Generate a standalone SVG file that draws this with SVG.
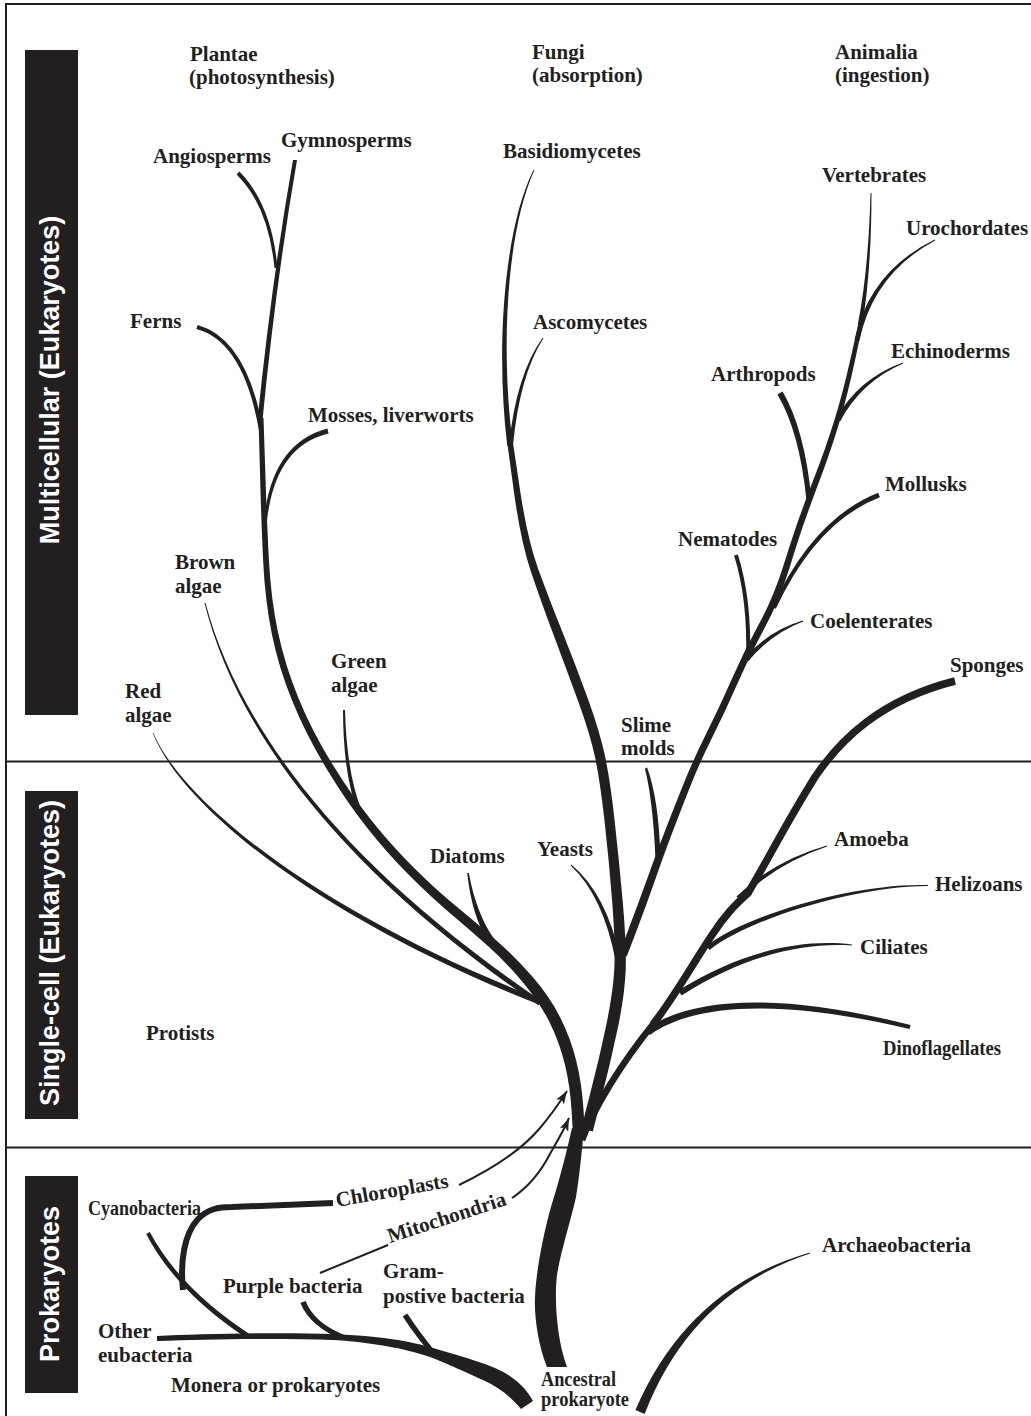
<svg xmlns="http://www.w3.org/2000/svg" width="1031" height="1416" viewBox="0 0 1031 1416">
  <style>
    .br { fill: #231f20; }
    .tk { fill: none; stroke: #231f20; stroke-linecap: round; }
    .tkb { fill: none; stroke: #231f20; stroke-linecap: butt; }
    .arr { fill: none; stroke: #231f20; stroke-width: 2; }
    .frame { fill: none; stroke: #231f20; stroke-width: 2; }
    .bar { fill: #231f20; }
    .bartxt { font-family: "Liberation Sans", Arial, sans-serif; font-weight: bold; font-size: 27px; fill: #ffffff; text-anchor: middle; }
    .lbl { font-family: "Liberation Serif", "Times New Roman", serif; font-weight: bold; font-size: 21px; fill: #231f20; }
    .cond { font-size: 20px; }
  </style>
  <defs>
    <marker id="arrowhead" markerUnits="userSpaceOnUse" viewBox="0 0 16 12" markerWidth="16" markerHeight="12" refX="13" refY="6" orient="auto">
      <path d="M0,1.5 L13,6 L0,10.5 L3,6 Z" fill="#231f20"/>
    </marker>
  </defs>

  <rect x="0" y="0" width="1031" height="1416" fill="#ffffff"/>

  <!-- frame and horizontal dividers -->
  <g id="frame">
    <path class="frame" d="M6,1416 L6,4 L1031,4"/>
    <path class="frame" d="M6,761.5 L1031,761.5"/>
    <path class="frame" d="M6,1147.5 L1031,1147.5"/>
  </g>

  <!-- side bands -->
  <g id="band-multicellular">
    <rect class="bar" x="25" y="50" width="53" height="665"/>
    <text class="bartxt" transform="translate(59,380) rotate(-90)">Multicellular (Eukaryotes)</text>
  </g>
  <g id="band-singlecell">
    <rect class="bar" x="25" y="791" width="53" height="328"/>
    <text class="bartxt" transform="translate(59,953) rotate(-90)">Single-cell (Eukaryotes)</text>
  </g>
  <g id="band-prokaryotes">
    <rect class="bar" x="25" y="1176" width="53" height="217"/>
    <text class="bartxt" transform="translate(59,1284) rotate(-90)">Prokaryotes</text>
  </g>

  <!-- tree branches -->
  <g id="connectors">
    <!-- ancestral trunk -->
    <path class="br" d="M547,1367 C538,1345 534,1315 535,1297 C536,1270 545,1225 554,1197 C560,1178 567,1150 572,1128 L584,1128 C582,1150 579,1180 576,1197 C571,1220 561,1250 557,1275 C554,1300 557,1340 567,1367 Z"/>

    <!-- plant / algae trunk -->
    <path class="br" d="M258.5,418.1 L259.9,469.1 Q261.2,520.1 263.1,560.3 Q265,600.4 271.9,634.2 Q278.8,668 292.4,701.3 Q305.9,734.6 326.4,768.4 Q346.9,802.2 366.9,827.5 Q386.9,852.8 408.5,874.6 Q430,896.3 451,914 Q471.9,931.6 489.6,947.6 Q507.3,963.6 523.8,983.4 Q540.2,1003.2 549.8,1022.7 Q559.4,1042.1 564.8,1064 Q570.1,1085.9 571.6,1110.7 L573,1135.4 L585,1134.6 L583.5,1109.4 Q581.9,1084.1 576.3,1061 Q570.6,1037.9 560.2,1017.4 Q549.8,996.8 532.3,976.6 Q514.7,956.4 496.4,940.4 Q478.1,924.4 457.1,907.1 Q436,889.7 414.6,868.5 Q393.1,847.2 373.1,822.5 Q353.1,797.8 332.6,764.6 Q312.1,731.4 298.7,698.7 Q285.2,666 278.1,632.8 Q271,599.6 268.9,559.8 Q266.8,519.9 265.2,468.9 L263.5,417.9 Z"/>

    <path class="br" d="M293,160 Q271.8,280 257.5,420 L262.5,420 Q276.2,280 297,160 Z"/>
    <path class="br" d="M236.6,174.4 Q268.3,205.7 274.5,268 L277.5,268 Q271.7,204.3 239.4,171.6 Z"/>
    <path class="br" d="M196.4,329.1 Q243.1,341.2 259,430.4 L263,429.6 Q246.9,338.8 197.6,324.9 Z"/>
    <path class="br" d="M327.4,428.6 Q270.2,443.8 263.5,524.9 L266.5,525.1 Q273.8,446.2 328.6,433.4 Z"/>
    <path class="br" d="M343,710 Q343.2,775.3 358,812.8 L362,811.2 Q346.8,774.7 345,710 Z"/>
    <path class="br" d="M204.5,603.1 C233.5,720.7 328.5,861.6 538.5,1005.2 L541.5,1000.9 C331.5,858.4 236.5,719.3 205.5,602.9 Z"/>
    <path class="br" d="M152.7,733.1 C183.8,811.1 328.9,922.1 539,1004.6 L541,999.4 C331.1,917.9 186.2,808.9 153.3,732.9 Z"/>
    <path class="br" d="M467.2,873.1 Q471.6,915.8 489.1,943.9 L494.9,940.1 Q476.4,914.2 468.8,872.9 Z"/>

    <!-- fungi trunk -->
    <path class="br" d="M507.2,442.4 L513.9,491.6 Q520.6,540.8 530.8,571.2 Q541,601.5 553.7,635.2 Q566.3,668.8 578.3,701.6 Q590.2,734.4 595.1,757.6 Q600,780.7 604.5,820.6 Q609,860.5 612.3,902.9 Q615.5,945.2 614.3,968.7 Q613.1,992.2 606.2,1025.4 Q599.2,1058.6 590.2,1093.6 L581.2,1128.5 L592.8,1131.5 L601.8,1096.5 Q610.8,1061.4 617.9,1027.6 Q624.9,993.8 625.7,969.3 Q626.5,944.8 622.8,902.2 Q619,859.5 614.5,819.4 Q610,779.3 604.9,755.5 Q599.8,731.6 587.8,698.4 Q575.7,665.2 562.4,631.9 Q549,598.5 538.2,568.9 Q527.4,539.2 520.1,490.4 L512.8,441.6 Z"/>

    <path class="br" d="M533.6,169.8 C503.5,229.7 495.7,350.1 507.2,445.4 L512.8,444.6 C500.3,349.9 506.5,230.3 534.4,170.2 Z"/>
    <path class="br" d="M542.6,337.7 Q516.3,374.5 509,444.8 L513,445.2 Q519.7,375.5 543.4,338.3 Z"/>
    <path class="br" d="M570.7,865.4 Q603.2,895.9 615.5,960.5 L620.5,959.5 Q606.8,894.1 571.3,864.6 Z"/>
    <path class="br" d="M644.9,768.4 Q653,800.4 655.5,860.1 L660.5,859.9 Q659,799.6 647.1,767.6 Z"/>

    <!-- animal trunk -->
    <path class="br" d="M858.9,321.5 L850.7,358 Q842.5,394.4 833.9,421.8 Q825.3,449.1 816.2,472.5 Q807.1,495.9 800.6,514 Q794,532 783.5,565.4 Q772.9,598.7 758.4,625.1 Q743.9,651.5 731.4,680 Q718.8,708.5 705.8,734.6 Q692.8,760.6 682.2,787.2 Q671.6,813.7 663.5,834.7 Q655.4,855.7 646.8,879.7 Q638.2,903.6 628.8,928.6 L619.3,953.6 L626.7,956.4 L636.3,931.4 Q645.8,906.4 654.2,882.4 Q662.6,858.3 670.5,837.3 Q678.4,816.3 688.8,789.9 Q699.2,763.4 712.2,737.5 Q725.2,711.5 737.7,683 Q750.1,654.5 764.6,627.9 Q779.1,601.3 789.6,567.7 Q800,534 806.5,516.1 Q812.9,498.1 821.8,474.5 Q830.7,450.9 839.1,423.3 Q847.5,395.6 855.3,359.1 L863.1,322.5 Z"/>

    <path class="br" d="M870.5,193 Q868.5,270 857.8,324.6 L862.2,325.4 Q871.5,270 871.5,193 Z"/>
    <path class="br" d="M934.8,239.6 Q870.3,270.6 854.6,339.5 L859.4,340.5 Q873.7,273.4 935.2,240.4 Z"/>
    <path class="br" d="M902.8,362.5 Q858.7,378.5 835.8,418.8 L840.2,421.2 Q861.3,381.5 903.2,363.5 Z"/>
    <path class="br" d="M777.4,394.5 Q799.3,430.7 806.5,500.3 L811.5,499.8 Q804.7,429.3 782.6,391.5 Z"/>
    <path class="br" d="M878.1,492.7 Q813.4,518.5 772.2,607.2 L775.8,608.8 Q816.6,521.5 879.9,497.3 Z"/>
    <path class="br" d="M734.1,555.6 Q748,600.2 746,660 L750,660 Q752,599.8 737.9,554.4 Z"/>
    <path class="br" d="M802.8,620.5 Q768.9,630.4 744.1,658.4 L747.9,661.6 Q771.1,633.6 803.2,621.5 Z"/>

    <!-- protist / sponge trunk -->
    <path class="tkb" stroke-width="6.5" d="M582,1140 C594,1108 620,1065 654,1023"/>
    <path class="tk" stroke-width="7.5" d="M654,1023 C675,996 692,965 712,935 C725,915 735,905 748,893"/>
    <path class="tk" stroke-width="7.5" d="M748,893 C765,865 785,825 815,777"/>
    <path class="tkb" stroke-width="7.5" d="M815,777 C840,740 880,700 955,681"/>

    <path class="br" d="M826.9,845.5 Q774.1,860.4 736.5,896.4 L739.5,899.6 Q775.9,863.6 827.1,846.5 Z"/>
    <path class="br" d="M928,885.1 C859.8,882.5 749.1,912.9 706.4,946 L709.6,950 C750.9,917.1 860.2,885.5 928,885.9 Z"/>
    <path class="br" d="M852,944.5 C799.8,938 739,952.6 678.4,990.5 L681.6,995.5 C741,957.4 800.2,942 852,945.5 Z"/>
    <path class="br" d="M910.5,1025.1 C800.5,997 699.3,991.6 646,1029.1 L650,1034.9 C700.7,998.4 799.5,1003 909.5,1028.9 Z"/>

    <!-- prokaryote branches -->
    <path class="br" d="M809.9,1252.5 Q688,1287.8 635.4,1410.1 L644.6,1413.9 Q692,1292.2 810.1,1253.5 Z"/>
    <path class="br" d="M157,1336 C200,1334 280,1332 333,1334 C380,1336 410,1341 433,1348 C460,1356 490,1364 505,1373 C520,1382 528,1392 533,1401 L521,1409 C512,1398 500,1388 485,1381 C465,1372 450,1365 433,1358 C410,1350 380,1343 333,1340 C280,1338 210,1339 157,1341 Z"/>
    <path class="br" d="M146.2,1233.9 Q176.2,1291.7 246.6,1338.1 L249.4,1333.9 Q179.8,1288.3 149.8,1232.1 Z"/>
    <path class="tkb" stroke-width="6" d="M183,1290 C180,1262 184,1234 198,1219 C208,1209 218,1207 232,1207 L333,1203"/>
    <path class="br" d="M300.4,1303 Q310.2,1327.1 344.1,1340.3 L345.9,1335.7 Q313.8,1322.9 305.6,1301 Z"/>
    <path class="br" d="M402.7,1316.5 Q415.8,1336.7 433.1,1356.6 L436.9,1353.4 Q420.2,1333.3 407.3,1313.5 Z"/>

    <!-- endosymbiosis arrows -->
    <path class="arr" d="M320,1273 L388,1245"/>
    <path class="arr" marker-end="url(#arrowhead)" d="M459,1185 C490,1170 520,1152 540,1128 C552,1114 560,1102 567,1091"/>
    <path class="arr" marker-end="url(#arrowhead)" d="M512,1198 C530,1186 543,1168 551,1152 C558,1140 564,1130 569,1118"/>
  </g>

  <!-- kingdom headings -->
  <g id="kingdom-plantae"><text class="lbl" x="190" y="61">Plantae</text><text class="lbl" x="189" y="84">(photosynthesis)</text></g>
  <g id="kingdom-fungi"><text class="lbl" x="532" y="59">Fungi</text><text class="lbl" x="532" y="82">(absorption)</text></g>
  <g id="kingdom-animalia"><text class="lbl" x="835" y="59">Animalia</text><text class="lbl" x="835" y="82">(ingestion)</text></g>

  <!-- plants and algae -->
  <g id="angiosperms"><text class="lbl" x="153" y="163">Angiosperms</text></g>
  <g id="gymnosperms"><text class="lbl" x="281" y="147">Gymnosperms</text></g>
  <g id="ferns"><text class="lbl" x="130" y="328">Ferns</text></g>
  <g id="mosses"><text class="lbl" x="308" y="422">Mosses, liverworts</text></g>
  <g id="brown-algae"><text class="lbl" x="175" y="569">Brown</text><text class="lbl" x="175" y="593">algae</text></g>
  <g id="green-algae"><text class="lbl" x="331" y="668">Green</text><text class="lbl" x="331" y="692">algae</text></g>
  <g id="red-algae"><text class="lbl" x="125" y="698">Red</text><text class="lbl" x="125" y="722">algae</text></g>
  <g id="diatoms"><text class="lbl" x="430" y="863">Diatoms</text></g>

  <!-- fungi -->
  <g id="basidiomycetes"><text class="lbl" x="503" y="158">Basidiomycetes</text></g>
  <g id="ascomycetes"><text class="lbl" x="533" y="329">Ascomycetes</text></g>
  <g id="yeasts"><text class="lbl" x="537" y="856">Yeasts</text></g>
  <g id="slime-molds"><text class="lbl" x="621" y="732">Slime</text><text class="lbl" x="621" y="755">molds</text></g>

  <!-- animals -->
  <g id="vertebrates"><text class="lbl" x="822" y="182">Vertebrates</text></g>
  <g id="urochordates"><text class="lbl" x="906" y="235">Urochordates</text></g>
  <g id="echinoderms"><text class="lbl" x="891" y="358">Echinoderms</text></g>
  <g id="arthropods"><text class="lbl" x="711" y="381">Arthropods</text></g>
  <g id="mollusks"><text class="lbl" x="885" y="491">Mollusks</text></g>
  <g id="nematodes"><text class="lbl" x="678" y="546">Nematodes</text></g>
  <g id="coelenterates"><text class="lbl" x="810" y="628">Coelenterates</text></g>
  <g id="sponges"><text class="lbl" x="950" y="672">Sponges</text></g>

  <!-- protists -->
  <g id="amoeba"><text class="lbl" x="834" y="846">Amoeba</text></g>
  <g id="helizoans"><text class="lbl" x="935" y="891">Helizoans</text></g>
  <g id="ciliates"><text class="lbl" x="860" y="954">Ciliates</text></g>
  <g id="dinoflagellates"><text class="lbl cond" x="883" y="1055" textLength="118" lengthAdjust="spacingAndGlyphs">Dinoflagellates</text></g>
  <g id="protists"><text class="lbl" x="146" y="1040">Protists</text></g>

  <!-- prokaryotes -->
  <g id="cyanobacteria"><text class="lbl cond" x="88" y="1215" textLength="113" lengthAdjust="spacingAndGlyphs">Cyanobacteria</text></g>
  <g id="chloroplasts"><text class="lbl" transform="translate(337,1207) rotate(-10)">Chloroplasts</text></g>
  <g id="mitochondria"><text class="lbl" transform="translate(390,1243) rotate(-18)">Mitochondria</text></g>
  <g id="purple-bacteria"><text class="lbl" x="223" y="1293">Purple bacteria</text></g>
  <g id="gram-positive"><text class="lbl" x="383" y="1278">Gram-</text><text class="lbl" x="383" y="1303">postive bacteria</text></g>
  <g id="other-eubacteria"><text class="lbl" x="98" y="1338">Other</text><text class="lbl" x="98" y="1362">eubacteria</text></g>
  <g id="monera"><text class="lbl" x="171" y="1392">Monera or prokaryotes</text></g>
  <g id="archaeobacteria"><text class="lbl" x="822" y="1252">Archaeobacteria</text></g>
  <g id="ancestral-prokaryote"><text class="lbl cond" x="541" y="1386" textLength="75" lengthAdjust="spacingAndGlyphs">Ancestral</text><text class="lbl cond" x="541" y="1406" textLength="88" lengthAdjust="spacingAndGlyphs">prokaryote</text></g>
</svg>
